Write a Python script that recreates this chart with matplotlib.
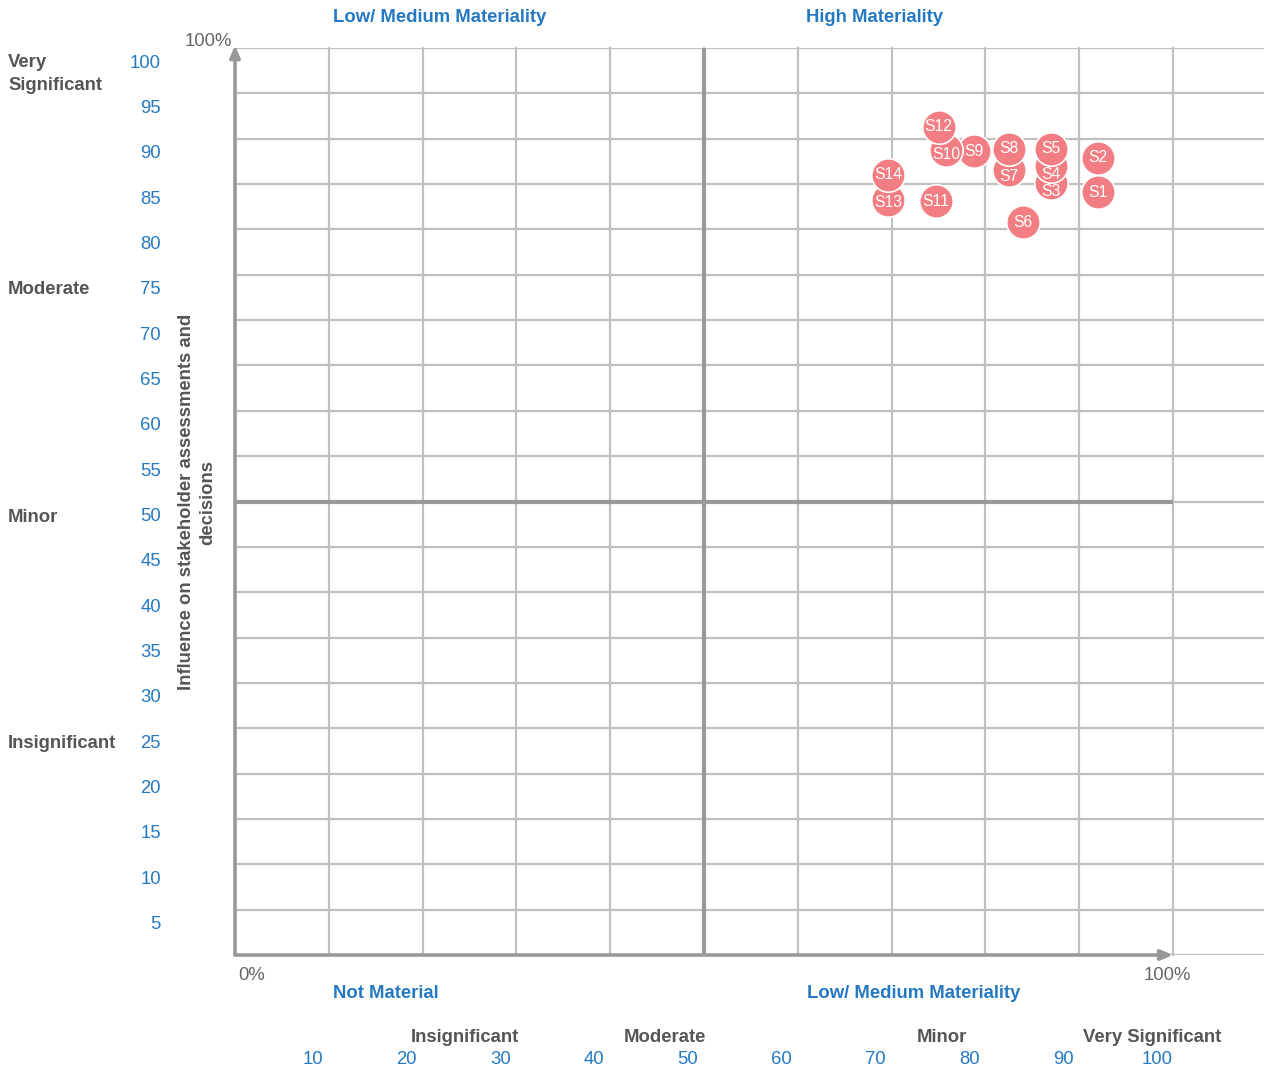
#!/usr/bin/env python3

"""
Materiality matrix: influence on stakeholders vs. significance of impact.
"""

import matplotlib
matplotlib.use('Agg')
import matplotlib.pyplot as plt

# topic labels and positions (% on each axis)
topics = ['S1', 'S2', 'S3', 'S4', 'S5', 'S6', 'S7',
          'S8', 'S9', 'S10', 'S11', 'S12', 'S13', 'S14']
impact = [92.0, 92.0, 87.0, 87.0, 87.0, 84.0, 82.5,
          82.5, 78.8, 75.8, 74.7, 75.0, 69.6, 69.6]
influence = [84.1, 87.9, 85.1, 87.0, 88.9, 80.8, 86.5,
             88.9, 88.6, 88.7, 83.1, 91.3, 83.2, 86.0]

y_ticks = [100, 95, 90, 85, 80, 75, 70, 65, 60, 55, 50,
           45, 40, 35, 30, 25, 20, 15, 10, 5]
x_ticks = [10, 20, 30, 40, 50, 60, 70, 80, 90, 100]

y_levels = ['Very\nSignificant', 'Moderate', 'Minor', 'Insignificant']
x_levels = ['Insignificant', 'Moderate', 'Minor', 'Very Significant']

# labels of partly hidden bubbles sit a little lower (pixels)
label_drop = {'S3': 8, 'S4': 9, 'S7': 6, 'S10': 4, 'S13': 2}

BLUE = '#2479c2'
DARK = '#555555'
GRID = '#c0c0c0'
AXIS = '#999999'
DOT = '#f27e83'
FS = 13.3

W, H = 1264, 1070
plt.rcParams['font.family'] = ['Liberation Sans', 'DejaVu Sans']

fig = plt.figure(figsize=(W / 100, H / 100), dpi=100)
# axes box in pixels: left 235, right 1264, top 48, bottom 955
ax = fig.add_axes([235 / W, (H - 955) / H, (1264 - 235) / W, (955 - 48) / H])
ax.set_xlim(0, 100 * (1264 - 235) / (1173 - 235))
ax.set_ylim(0, 100)
ax.axis('off')


def ftext(x, y, s, **kw):
    """Place text at pixel position (x from left, y from top)."""
    fig.text(x / W, 1 - (y + 2) / H, s, **kw)


# grid
for v in range(0, 101, 5):
    ax.axhline(v, color=GRID, lw=1.6, zorder=1)
for v in x_ticks:
    ax.plot([v, v], [0, 100], color=GRID, lw=1.6, zorder=1, clip_on=False)

# quadrant dividers
ax.plot([50, 50], [0, 100], color=AXIS, lw=3, zorder=2, solid_capstyle='butt')
ax.plot([0, 100], [50, 50], color=AXIS, lw=3, zorder=2, solid_capstyle='butt')

# axes with arrows
arrow = dict(arrowstyle='-|>,head_length=0.7,head_width=0.3', color=AXIS, lw=2.6,
             shrinkA=0, shrinkB=0)
ax.annotate('', xy=(100, 0), xytext=(0, 0), arrowprops=arrow, zorder=3,
            annotation_clip=False)
ax.annotate('', xy=(0, 100.3), xytext=(0, 0), arrowprops=arrow, zorder=3,
            annotation_clip=False)

# bubbles, drawn in order so later ones sit on top
for i, (x, y) in enumerate(zip(impact, influence)):
    ax.scatter([x], [y], s=580, color=DOT, edgecolors='white', linewidths=1.2,
               zorder=10 + i, clip_on=False)
for name, x, y in zip(topics, impact, influence):
    ax.annotate(name, xy=(x, y), xytext=(0, -label_drop.get(name, 0)),
                textcoords='offset pixels', color='white', fontsize=11.3,
                ha='center', va='center', zorder=40)

# blue numbers
for v in y_ticks:
    ax.annotate(str(v), xy=(0, v), xycoords=('axes fraction', 'data'),
                xytext=(-74, -15), textcoords='offset pixels',
                ha='right', va='center', color=BLUE, fontsize=FS)
for v in x_ticks:
    ax.annotate(str(v), xy=(v, 0), xycoords=('data', 'axes fraction'),
                xytext=(-16, -105), textcoords='offset pixels',
                ha='center', va='center', color=BLUE, fontsize=FS)

# level names
for s, y in zip(y_levels, [72, 288, 515, 742]):
    ftext(8, y, s, ha='left', va='center', color=DARK, fontsize=FS,
          fontweight='bold', linespacing=1.5)
for s, x in zip(x_levels, [465, 665, 942, 1152]):
    ftext(x, 1036, s, ha='center', va='center', color=DARK, fontsize=FS,
          fontweight='bold')

# quadrant headings
ftext(440, 16, 'Low/ Medium Materiality', ha='center', va='center',
      color=BLUE, fontsize=FS, fontweight='bold')
ftext(874, 16, 'High Materiality', ha='center', va='center',
      color=BLUE, fontsize=FS, fontweight='bold')
ftext(386, 991, 'Not Material', ha='center', va='center',
      color=BLUE, fontsize=FS, fontweight='bold')
ftext(914, 991, 'Low/ Medium Materiality', ha='center', va='center',
      color=BLUE, fontsize=FS, fontweight='bold')

# percent marks
ftext(208, 39, '100%', ha='center', va='center', color='#666666', fontsize=FS)
ftext(252, 974, '0%', ha='center', va='center', color='#666666', fontsize=FS)
ftext(1167, 974, '100%', ha='center', va='center', color='#666666', fontsize=FS)

# y label
ftext(197, 500, 'Influence on stakeholder assessments and\ndecisions',
      ha='center', va='center', rotation=90, color=DARK, fontsize=FS,
      fontweight='bold', multialignment='center', linespacing=1.3)

fig.savefig('out.png', dpi=100)
